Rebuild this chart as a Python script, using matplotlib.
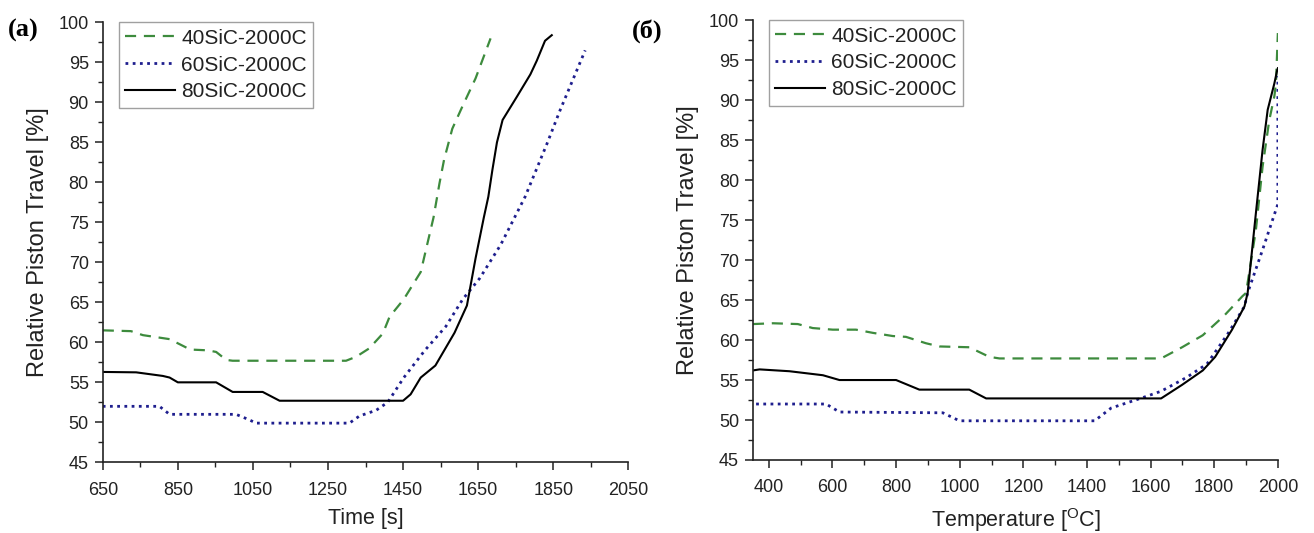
import matplotlib
matplotlib.use("Agg")
import matplotlib.pyplot as plt
from matplotlib.ticker import MultipleLocator

plt.rcParams['font.family'] = ['Liberation Sans', 'DejaVu Sans']
plt.rcParams['mathtext.fontset'] = 'custom'
plt.rcParams['mathtext.rm'] = 'Liberation Sans'

labels = ['40SiC-2000C', '60SiC-2000C', '80SiC-2000C']

# (a) piston travel vs time
time_40 = [650, 725, 757, 828, 883, 930, 952, 979, 996, 1100, 1200, 1298, 1325, 1360, 1396,
           1414, 1452, 1497, 1531, 1547, 1559, 1581, 1609, 1643, 1683]
trav_40 = [61.5, 61.4, 60.9, 60.4, 59.1, 59.0, 58.8, 57.8, 57.7, 57.7, 57.7, 57.7, 58.2, 59.25, 61.1,
           63.2, 65.4, 68.8, 75.6, 79.9, 82.8, 86.7, 89.6, 93.0, 98.0]
time_60 = [650, 801, 828, 1005, 1041, 1058, 1307, 1334, 1378, 1409, 1452, 1508, 1564, 1609, 1654,
           1710, 1775, 1833, 1868, 1935]
trav_60 = [52.0, 52.0, 51.0, 51.0, 50.3, 49.9, 49.9, 50.8, 51.5, 52.5, 55.6, 59.0, 62.0, 65.4, 68.0,
           72.2, 78.2, 84.8, 89.0, 96.5]
time_80 = [650, 739, 810, 828, 850, 952, 996, 1076, 1121, 1300, 1450, 1470, 1497, 1536, 1587, 1620,
           1643, 1665, 1677, 1688, 1700, 1715, 1753, 1789, 1806, 1828, 1846]
trav_80 = [56.3, 56.25, 55.8, 55.6, 55.0, 55.0, 53.8, 53.8, 52.7, 52.7, 52.7, 53.5, 55.6, 57.1, 61.2, 64.6,
           70.5, 75.6, 78.2, 81.6, 85.0, 87.8, 90.7, 93.5, 95.2, 97.7, 98.4]

# (б) piston travel vs temperature
temp_40 = [350, 413, 491, 538, 601, 674, 727, 790, 831, 894, 936, 1030, 1093, 1125, 1300, 1500, 1633,
           1699, 1764, 1830, 1889, 1900, 1931, 1952, 1973, 1989, 1994, 2000]
ttrav_40 = [62.0, 62.1, 62.0, 61.5, 61.3, 61.3, 60.9, 60.5, 60.4, 59.6, 59.2, 59.1, 57.9, 57.7, 57.7, 57.7, 57.7,
            59.1, 60.6, 63.0, 65.5, 65.9, 73.8, 81.7, 87.5, 90.5, 92.1, 98.4]
temp_60 = [360, 580, 622, 947, 999, 1200, 1424, 1476, 1568, 1633, 1712, 1777, 1843, 1895, 1905, 1952,
           1994, 2000, 2000]
ttrav_60 = [52.0, 52.0, 51.0, 50.9, 49.9, 49.9, 49.9, 51.5, 52.7, 53.6, 55.3, 57.0, 60.8, 64.2, 65.9, 71.3,
            76.3, 77.0, 93.0]
temp_80 = [350, 371, 465, 570, 622, 800, 873, 1030, 1083, 1300, 1500, 1633, 1699, 1764, 1803, 1856, 1895,
           1905, 1931, 1952, 1968, 1989, 1997, 2000]
ttrav_80 = [56.2, 56.33, 56.1, 55.6, 55.0, 55.0, 53.8, 53.8, 52.7, 52.7, 52.7, 52.7, 54.4, 56.2, 57.9, 61.3, 64.2,
            65.9, 75.9, 83.8, 88.8, 92.1, 93.6, 94.0]

green = '#3d8b3d'
blue = '#1e1e8e'

fig = plt.figure(figsize=(13.14, 5.33), dpi=100)
ax1 = fig.add_axes([0.0782, 0.1326, 0.4, 0.8254])
ax2 = fig.add_axes([0.573, 0.137, 0.3995, 0.825])


def style(ax, xlim, xmajor, xlabel):
    ax.set_xlim(*xlim)
    ax.set_ylim(45, 100)
    ax.xaxis.set_major_locator(MultipleLocator(xmajor))
    ax.xaxis.set_minor_locator(MultipleLocator(xmajor / 2))
    ax.yaxis.set_major_locator(MultipleLocator(5))
    ax.yaxis.set_minor_locator(MultipleLocator(2.5))
    for s in ['top', 'right']:
        ax.spines[s].set_visible(False)
    for s in ['left', 'bottom']:
        ax.spines[s].set_linewidth(1.2)
        ax.spines[s].set_color('#222222')
    ax.tick_params(which='major', direction='out', length=6, width=1.1, labelsize=13,
                   colors='#222222', pad=4)
    ax.tick_params(axis='x', which='major', pad=8)
    ax.tick_params(which='minor', direction='out', length=3.5, width=1.0, colors='#222222')
    ax.set_xlabel(xlabel, fontsize=15.5, color='#222222', labelpad=7)
    ax.set_ylabel('Relative Piston Travel [%]', fontsize=17, color='#222222', labelpad=7)
    leg = ax.legend(loc='upper left', bbox_to_anchor=(0.03, 1.0), fontsize=15, frameon=True,
                    fancybox=False, handlelength=2.4, handletextpad=0.3, labelspacing=0.38,
                    borderpad=0.3, borderaxespad=0.0)
    leg.get_frame().set_edgecolor('#888888')
    leg.get_frame().set_linewidth(1.0)
    for t in leg.get_texts():
        t.set_color('#222222')


ax1.plot(time_40, trav_40, color=green, lw=1.6, linestyle=(0, (5, 3.5)), label=labels[0])
ax1.plot(time_60, trav_60, color=blue, lw=2.0, linestyle=(0, (1, 1.6)), label=labels[1])
ax1.plot(time_80, trav_80, color='black', lw=1.5, label=labels[2])
style(ax1, (650, 2050), 200, 'Time [s]')
ax1.set_xticks(range(650, 2051, 200))
ax1.set_xticks(range(750, 2051, 200), minor=True)

ax2.plot(temp_40, ttrav_40, color=green, lw=1.6, linestyle=(0, (5, 3.5)), label=labels[0])
ax2.plot(temp_60, ttrav_60, color=blue, lw=2.0, linestyle=(0, (1, 1.6)), label=labels[1])
ax2.plot(temp_80, ttrav_80, color='black', lw=1.5, label=labels[2])
style(ax2, (350, 2000), 200, r'Temperature [$^{\mathrm{O}}$C]')

fig.text(0.006, 0.965, '(a)', fontsize=19, fontweight='bold', family='Liberation Serif', va='top')
fig.text(0.481, 0.965, '(б)', fontsize=19, fontweight='bold', family='Liberation Serif', va='top')

fig.savefig('out.png', dpi=100)
